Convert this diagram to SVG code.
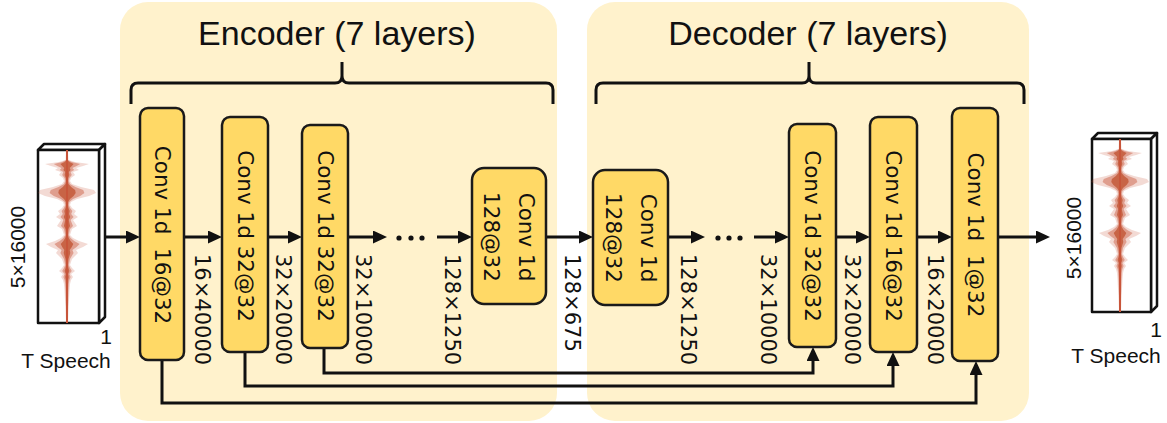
<svg xmlns="http://www.w3.org/2000/svg" xmlns:xlink="http://www.w3.org/1999/xlink" width="1167" height="423" viewBox="0 0 1167 423">
  <style>
    .panel { fill: #FFF2CC; }
    .conv { fill: #FFD966; stroke: #1a1a1a; stroke-width: 2.5; }
    .conv-text { font-family: "DejaVu Sans", sans-serif; font-size: 21.5px; fill: #111; }
    .dim { font-family: "DejaVu Sans", sans-serif; font-size: 21px; fill: #111; }
    .title { font-family: "Liberation Sans", Arial, sans-serif; font-size: 34px; fill: #111; }
    .io { font-family: "Liberation Sans", Arial, sans-serif; font-size: 21px; fill: #111; }
    .wire { fill: none; stroke: #111; stroke-width: 3; }
    .brace { fill: none; stroke: #111; stroke-width: 3; }
    .slab { fill: #fff; stroke: #111; stroke-width: 2.5; stroke-linejoin: round; }
  </style>
  <defs>
    <marker id="arrow" markerUnits="userSpaceOnUse" markerWidth="15" markerHeight="14" refX="9" refY="6.5" orient="auto">
      <path d="M0,0 L14,6.5 L0,13 Z" fill="#111"/>
    </marker>
    <!-- speech waveform envelope, centred on x=0, running 173px downwards -->
    <path id="env" d="M1,0 L1.5,10 L8,12 L22,14 L16,16 L9,18 L12,20 L6,22 L8,25 L4,28 L3,31 L5,34 L14,37 L27,40 L29,43 L22,46 L10,49 L4,52 L3,55 L5,58 L9,61 L7,64 L11,67 L6,70 L8,73 L10,76 L5,79 L4,82 L3,85 L6,88 L12,91 L21,94 L16,97 L9,100 L11,103 L8,106 L5,109 L4,112 L3,115 L5,118 L8,121 L4,124 L6,127 L4,130 L3,134 L2.5,140 L2,150 L1.5,160 L1,173 L-1,173 L-1.5,160 L-2,150 L-2.5,140 L-3,134 L-4,130 L-6,127 L-4,124 L-8,121 L-5,118 L-3,115 L-4,112 L-5,109 L-8,106 L-11,103 L-9,100 L-16,97 L-21,94 L-12,91 L-6,88 L-3,85 L-4,82 L-5,79 L-10,76 L-8,73 L-6,70 L-11,67 L-7,64 L-9,61 L-5,58 L-3,55 L-4,52 L-10,49 L-22,46 L-29,43 L-27,40 L-14,37 L-5,34 L-3,31 L-4,28 L-8,25 L-6,22 L-12,20 L-9,18 L-16,16 L-22,14 L-8,12 L-1.5,10 L-1,0 Z"/>
    <g id="wave">
      <use xlink:href="#env" fill="#C8553A" fill-opacity="0.22"/>
      <use xlink:href="#env" fill="#C8553A" fill-opacity="0.45" transform="scale(0.6,1)"/>
      <use xlink:href="#env" fill="#C0502E" fill-opacity="0.75" transform="scale(0.3,1)"/>
      <line x1="0" y1="0" x2="0" y2="173" stroke="#C8553A" stroke-width="2"/>
    </g>
  </defs>

  <!-- background panels -->
  <g id="encoder">
    <rect class="panel" x="120" y="2" width="437" height="419" rx="28"/>
    <text class="title" x="337" y="45" text-anchor="middle">Encoder (7 layers)</text>
    <path class="brace" d="M131,104 V90 Q131,83 138,83 H335 Q342,83 342,76 V62 M342,76 Q342,83 349,83 H546 Q553,83 553,90 V104"/>
  </g>
  <g id="decoder">
    <rect class="panel" x="587" y="2" width="442" height="419" rx="28"/>
    <text class="title" x="808" y="45" text-anchor="middle">Decoder (7 layers)</text>
    <path class="brace" d="M596,104 V90 Q596,83 603,83 H802 Q809,83 809,76 V62 M809,76 Q809,83 816,83 H1017 Q1024,83 1024,90 V104"/>
  </g>

  <!-- input speech -->
  <g id="input">
    <polygon class="slab" points="38,150 44,144 105,144 99,150"/>
    <polygon class="slab" points="99,150 105,144 105,317 99,323"/>
    <rect class="slab" x="38" y="150" width="61" height="173"/>
    <use xlink:href="#wave" transform="translate(67,150)"/>
    <text class="io" transform="translate(17,247) rotate(-90)" text-anchor="middle" dominant-baseline="central">5×16000</text>
    <text class="io" x="106" y="344" text-anchor="middle">1</text>
    <text class="io" x="66" y="368" text-anchor="middle">T Speech</text>
  </g>

  <!-- output speech -->
  <g id="output">
    <polygon class="slab" points="1092,139 1098,133 1157,133 1151,139"/>
    <polygon class="slab" points="1151,139 1157,133 1157,306 1151,312"/>
    <rect class="slab" x="1092" y="139" width="59" height="173"/>
    <use xlink:href="#wave" transform="translate(1120,139)"/>
    <text class="io" transform="translate(1073,238) rotate(-90)" text-anchor="middle" dominant-baseline="central">5×16000</text>
    <text class="io" x="1156" y="337" text-anchor="middle">1</text>
    <text class="io" x="1116" y="363" text-anchor="middle">T Speech</text>
  </g>

  <!-- connectors -->
  <g id="connectors">
    <path class="wire" d="M104,237 H135" marker-end="url(#arrow)"/>
    <path class="wire" d="M184,237 H217" marker-end="url(#arrow)"/>
    <path class="wire" d="M268,237 H297" marker-end="url(#arrow)"/>
    <path class="wire" d="M348,237 H382" marker-end="url(#arrow)"/>
    <path class="wire" d="M437,237 H467" marker-end="url(#arrow)"/>
    <path class="wire" d="M546,237 H588" marker-end="url(#arrow)"/>
    <path class="wire" d="M668,237 H700" marker-end="url(#arrow)"/>
    <path class="wire" d="M754,237 H784" marker-end="url(#arrow)"/>
    <path class="wire" d="M836,237 H865" marker-end="url(#arrow)"/>
    <path class="wire" d="M917,237 H947" marker-end="url(#arrow)"/>
    <path class="wire" d="M998,237 H1045" marker-end="url(#arrow)"/>
    <!-- skip connections -->
    <path class="wire" d="M162,360 V403 H976 V366" marker-end="url(#arrow)"/>
    <path class="wire" d="M245,352 V386 H893 V357" marker-end="url(#arrow)"/>
    <path class="wire" d="M324,348 V373 H813 V352" marker-end="url(#arrow)"/>
    <!-- elided layers -->
    <g fill="#111">
      <circle cx="399" cy="238" r="2.6"/>
      <circle cx="411" cy="238" r="2.6"/>
      <circle cx="422" cy="238" r="2.6"/>
      <circle cx="718" cy="238" r="2.6"/>
      <circle cx="729" cy="238" r="2.6"/>
      <circle cx="740" cy="238" r="2.6"/>
    </g>
  </g>

  <!-- encoder layers -->
  <g id="enc1">
    <rect class="conv" x="140" y="108" width="44" height="252" rx="8"/>
    <text class="conv-text" transform="translate(162,235) rotate(90)" text-anchor="middle" dominant-baseline="central" xml:space="preserve">Conv 1d  16@32</text>
  </g>
  <g id="enc2">
    <rect class="conv" x="222" y="117" width="46" height="235" rx="8"/>
    <text class="conv-text" transform="translate(245,236) rotate(90)" text-anchor="middle" dominant-baseline="central">Conv 1d 32@32</text>
  </g>
  <g id="enc3">
    <rect class="conv" x="302" y="125" width="46" height="223" rx="8"/>
    <text class="conv-text" transform="translate(325,236) rotate(90)" text-anchor="middle" dominant-baseline="central">Conv 1d 32@32</text>
  </g>
  <g id="enc7">
    <rect class="conv" x="472" y="168" width="74" height="136" rx="12"/>
    <text class="conv-text" transform="translate(526,237) rotate(90)" text-anchor="middle" dominant-baseline="central">Conv 1d</text>
    <text class="conv-text" transform="translate(491,237) rotate(90)" text-anchor="middle" dominant-baseline="central">128@32</text>
  </g>

  <!-- decoder layers -->
  <g id="dec1">
    <rect class="conv" x="593" y="170" width="75" height="135" rx="12"/>
    <text class="conv-text" transform="translate(648,238) rotate(90)" text-anchor="middle" dominant-baseline="central">Conv 1d</text>
    <text class="conv-text" transform="translate(613,238) rotate(90)" text-anchor="middle" dominant-baseline="central">128@32</text>
  </g>
  <g id="dec5">
    <rect class="conv" x="789" y="124" width="47" height="223" rx="8"/>
    <text class="conv-text" transform="translate(812,236) rotate(90)" text-anchor="middle" dominant-baseline="central">Conv 1d 32@32</text>
  </g>
  <g id="dec6">
    <rect class="conv" x="870" y="117" width="47" height="235" rx="8"/>
    <text class="conv-text" transform="translate(893,236) rotate(90)" text-anchor="middle" dominant-baseline="central">Conv 1d 16@32</text>
  </g>
  <g id="dec7">
    <rect class="conv" x="952" y="108" width="46" height="253" rx="8"/>
    <text class="conv-text" transform="translate(975,235) rotate(90)" text-anchor="middle" dominant-baseline="central" xml:space="preserve">Conv 1d  1@32</text>
  </g>

  <!-- feature map sizes -->
  <g id="sizes">
    <text class="dim" transform="translate(202,254) rotate(90)" dominant-baseline="central">16×40000</text>
    <text class="dim" transform="translate(283,254) rotate(90)" dominant-baseline="central">32×20000</text>
    <text class="dim" transform="translate(363,254) rotate(90)" dominant-baseline="central">32×10000</text>
    <text class="dim" transform="translate(452,254) rotate(90)" dominant-baseline="central">128×1250</text>
    <text class="dim" transform="translate(572,254) rotate(90)" dominant-baseline="central">128×675</text>
    <text class="dim" transform="translate(688,254) rotate(90)" dominant-baseline="central">128×1250</text>
    <text class="dim" transform="translate(768,254) rotate(90)" dominant-baseline="central">32×10000</text>
    <text class="dim" transform="translate(852,254) rotate(90)" dominant-baseline="central">32×20000</text>
    <text class="dim" transform="translate(935,254) rotate(90)" dominant-baseline="central">16×20000</text>
  </g>
</svg>
